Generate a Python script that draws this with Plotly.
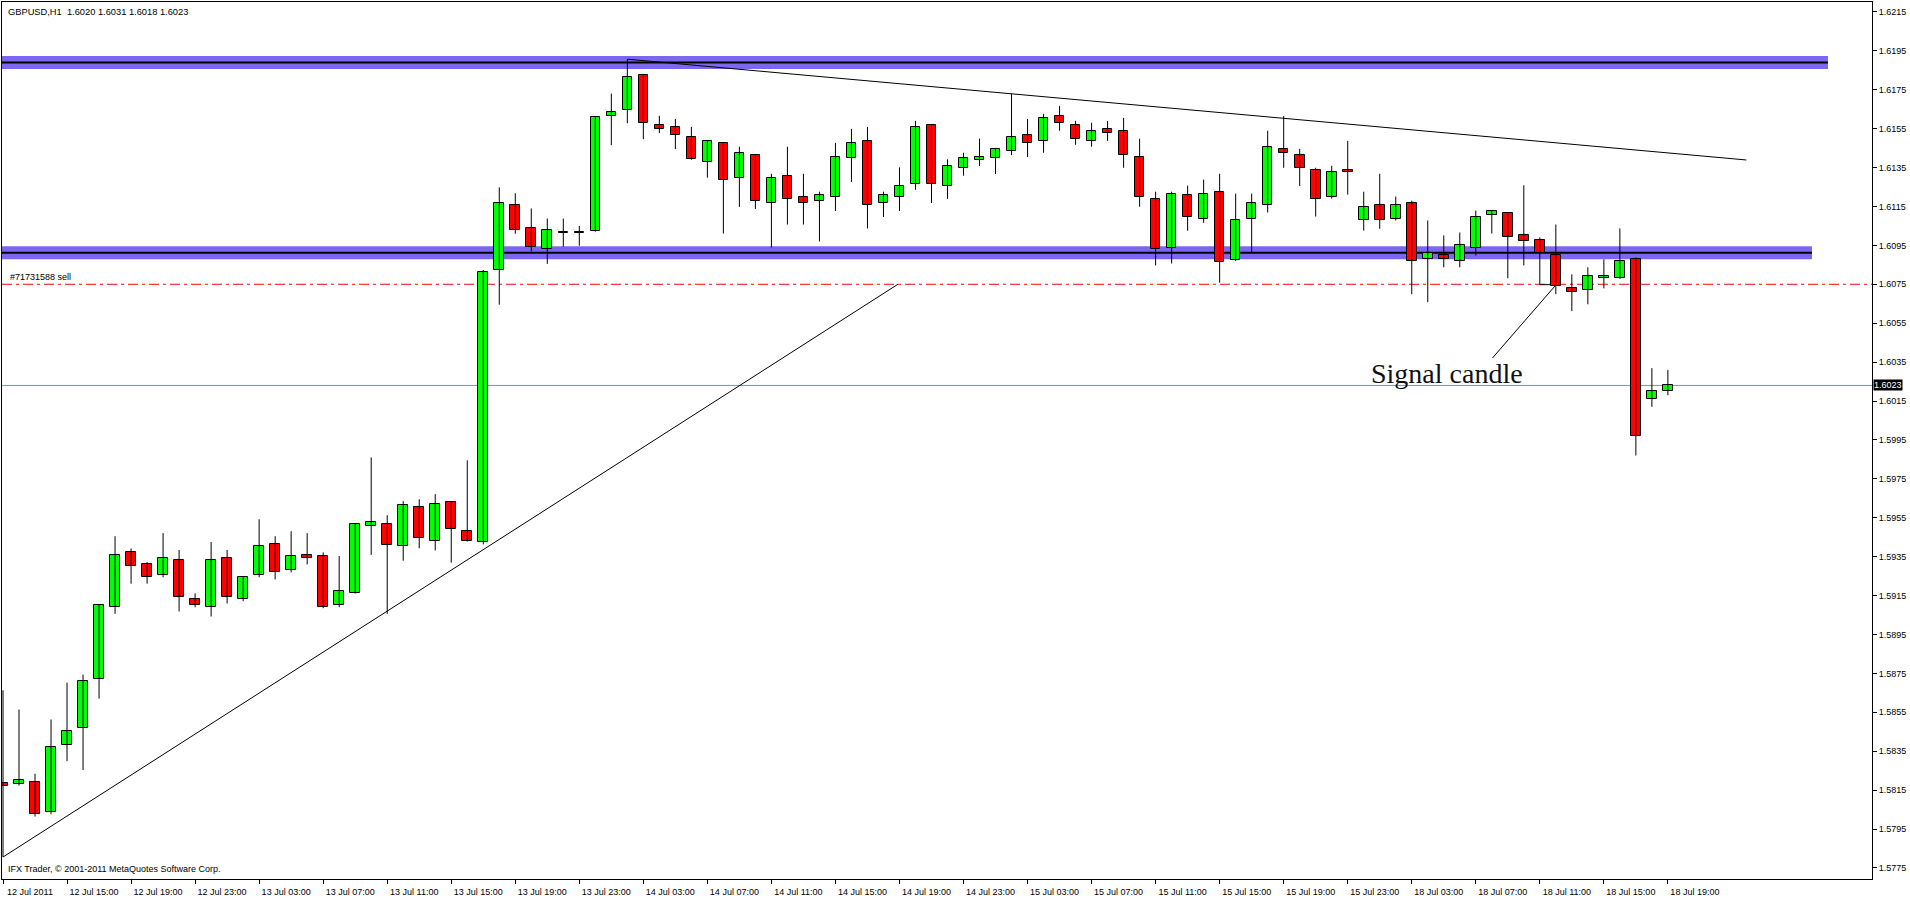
import plotly.graph_objects as go

# ---------------- data ----------------
opens = [1.58185, 1.58183, 1.58193, 1.58035, 1.58383, 1.58467, 1.58721, 1.59090, 1.59372, 1.59310,
         1.59254, 1.59331, 1.59131, 1.59090, 1.59341, 1.59131, 1.59254, 1.59413, 1.59279, 1.59361,
         1.59351, 1.59100, 1.59162, 1.59510, 1.59520, 1.59403, 1.59603, 1.59433, 1.59633, 1.59480,
         1.59423, 1.60822, 1.61159, 1.61037, 1.60929, 1.61016, 1.61012, 1.61025, 1.61616, 1.61646,
         1.61826, 1.61569, 1.61559, 1.61508, 1.61380, 1.61477, 1.61298, 1.61416, 1.61170, 1.61308,
         1.61200, 1.61180, 1.61200, 1.61400, 1.61487, 1.61170, 1.61200, 1.61267, 1.61569, 1.61257,
         1.61349, 1.61390, 1.61400, 1.61436, 1.61518, 1.61487, 1.61615, 1.61569, 1.61487, 1.61549,
         1.61539, 1.61406, 1.61190, 1.60939, 1.61211, 1.61088, 1.61226, 1.60877, 1.61088, 1.61160,
         1.61446, 1.61416, 1.61339, 1.61201, 1.61339, 1.61078, 1.61160, 1.61088, 1.61170, 1.60878,
         1.60898, 1.60868, 1.60939, 1.61108, 1.61119, 1.61001, 1.60980, 1.60898, 1.60729, 1.60719,
         1.60780, 1.60780, 1.60878, 1.60161, 1.60200]
highs = [1.58663, 1.58564, 1.58234, 1.58513, 1.58702, 1.58743, 1.59102, 1.59455, 1.59392, 1.59322,
         1.59471, 1.59384, 1.59161, 1.59425, 1.59384, 1.59244, 1.59542, 1.59455, 1.59481, 1.59471,
         1.59372, 1.59353, 1.59522, 1.59860, 1.59563, 1.59635, 1.59645, 1.59671, 1.59635, 1.59845,
         1.60823, 1.61248, 1.61218, 1.61140, 1.61088, 1.61088, 1.61050, 1.61612, 1.61730, 1.61907,
         1.61828, 1.61616, 1.61600, 1.61559, 1.61489, 1.61479, 1.61457, 1.61418, 1.61318, 1.61457,
         1.61318, 1.61226, 1.61477, 1.61549, 1.61559, 1.61226, 1.61351, 1.61590, 1.61571, 1.61392,
         1.61426, 1.61499, 1.61448, 1.61728, 1.61600, 1.61626, 1.61667, 1.61590, 1.61580, 1.61590,
         1.61605, 1.61498, 1.61226, 1.61226, 1.61257, 1.61288, 1.61318, 1.61216, 1.61216, 1.61539,
         1.61615, 1.61446, 1.61349, 1.61359, 1.61487, 1.61226, 1.61318, 1.61201, 1.61180, 1.61078,
         1.61001, 1.61016, 1.61129, 1.61131, 1.61121, 1.61259, 1.60991, 1.61057, 1.60801, 1.60837,
         1.60878, 1.61037, 1.60888, 1.60319, 1.60310]
lows = [1.57806, 1.58173, 1.58014, 1.58026, 1.58299, 1.58253, 1.58620, 1.59056, 1.59211, 1.59211,
        1.59244, 1.59068, 1.59090, 1.59042, 1.59109, 1.59121, 1.59244, 1.59233, 1.59269, 1.59310,
        1.59085, 1.59090, 1.59160, 1.59359, 1.59056, 1.59329, 1.59393, 1.59382, 1.59319, 1.59428,
        1.59413, 1.60645, 1.61010, 1.60919, 1.60855, 1.60943, 1.60948, 1.61020, 1.61465, 1.61578,
        1.61496, 1.61527, 1.61445, 1.61390, 1.61298, 1.61011, 1.61148, 1.61137, 1.60939, 1.61057,
        1.61057, 1.60970, 1.61127, 1.61276, 1.61037, 1.61096, 1.61127, 1.61236, 1.61168, 1.61189,
        1.61308, 1.61358, 1.61317, 1.61414, 1.61404, 1.61426, 1.61539, 1.61467, 1.61457, 1.61487,
        1.61349, 1.61149, 1.60847, 1.60857, 1.61025, 1.61066, 1.60758, 1.60870, 1.60915, 1.61119,
        1.61349, 1.61255, 1.61098, 1.61190, 1.61211, 1.61026, 1.61035, 1.61078, 1.60699, 1.60658,
        1.60837, 1.60837, 1.60898, 1.61011, 1.60781, 1.60847, 1.60748, 1.60699, 1.60612, 1.60647,
        1.60729, 1.60778, 1.59870, 1.60120, 1.60180]
closes = [1.58173, 1.58202, 1.58026, 1.58373, 1.58455, 1.58711, 1.59100, 1.59361, 1.59300, 1.59244,
          1.59341, 1.59141, 1.59100, 1.59331, 1.59141, 1.59244, 1.59403, 1.59269, 1.59351, 1.59341,
          1.59090, 1.59172, 1.59520, 1.59530, 1.59412, 1.59613, 1.59444, 1.59623, 1.59490, 1.59433,
          1.60811, 1.61170, 1.61027, 1.60940, 1.61027, 1.61018, 1.61018, 1.61609, 1.61636, 1.61815,
          1.61580, 1.61549, 1.61518, 1.61392, 1.61487, 1.61288, 1.61426, 1.61180, 1.61298, 1.61190,
          1.61170, 1.61211, 1.61405, 1.61477, 1.61160, 1.61211, 1.61257, 1.61559, 1.61267, 1.61359,
          1.61400, 1.61406, 1.61446, 1.61508, 1.61477, 1.61605, 1.61580, 1.61498, 1.61539, 1.61528,
          1.61416, 1.61201, 1.60929, 1.61216, 1.61098, 1.61216, 1.60866, 1.61078, 1.61170, 1.61457,
          1.61426, 1.61349, 1.61190, 1.61329, 1.61329, 1.61149, 1.61078, 1.61160, 1.60868, 1.60909,
          1.60878, 1.60950, 1.61098, 1.61129, 1.60991, 1.60970, 1.60909, 1.60740, 1.60709, 1.60791,
          1.60791, 1.60868, 1.59970, 1.60202, 1.60230]

tick_bars = [0, 4, 8, 12, 16, 20, 24, 28, 32, 36, 40, 44, 48, 52, 56, 60, 64, 68, 72, 76, 80, 84,
             88, 92, 96, 100, 104]
tick_labels = ["12 Jul 2011", "12 Jul 15:00", "12 Jul 19:00", "12 Jul 23:00", "13 Jul 03:00",
               "13 Jul 07:00", "13 Jul 11:00", "13 Jul 15:00", "13 Jul 19:00", "13 Jul 23:00",
               "14 Jul 03:00", "14 Jul 07:00", "14 Jul 11:00", "14 Jul 15:00", "14 Jul 19:00",
               "14 Jul 23:00", "15 Jul 03:00", "15 Jul 07:00", "15 Jul 11:00", "15 Jul 15:00",
               "15 Jul 19:00", "15 Jul 23:00", "18 Jul 03:00", "18 Jul 07:00", "18 Jul 11:00",
               "18 Jul 15:00", "18 Jul 19:00"]
price_ticks = [1.6215, 1.6195, 1.6175, 1.6155, 1.6135, 1.6115, 1.6095, 1.6075, 1.6055, 1.6035,
               1.6015, 1.5995, 1.5975, 1.5955, 1.5935, 1.5915, 1.5895, 1.5875, 1.5855, 1.5835,
               1.5815, 1.5795, 1.5775]

# drawn objects
resistance_levels = [1.61890, 1.60912]
resistance_ends = [114.0, 113.0]
band_half = 0.00033
sell_price = 1.6075
current_price = 1.6023
rise_line = [(0.0, 1.57806), (55.9, 1.6075)]
fall_line = [(39.0, 1.61907), (108.9, 1.61389)]
pointer_line = [(93.04, 1.60371), (97.0, 1.60746)]
stub_line = [(96.0, 1.60748), (96.69, 1.60748)]

# ---------------- figure ----------------
n = len(opens)
idx = list(range(n))
GREEN = "#00ff00"
RED = "#ff0000"
FONT = "Liberation Sans"

fig = go.Figure()

# wicks
wx, wy = [], []
for i in idx:
    wx += [i, i, None]
    wy += [lows[i], highs[i], None]
fig.add_trace(go.Scatter(x=wx, y=wy, mode="lines", line=dict(color="black", width=1),
                         hoverinfo="skip", showlegend=False))

# bodies
bases = [min(o, c) for o, c in zip(opens, closes)]
heights = [abs(c - o) for o, c in zip(opens, closes)]
colors = [GREEN if c >= o else RED for o, c in zip(opens, closes)]
fig.add_trace(go.Bar(x=idx, y=heights, base=bases, width=0.6,
                     marker=dict(color=colors, line=dict(color="black", width=1)),
                     hoverinfo="skip", showlegend=False))

shapes = []
for lvl, xe in zip(resistance_levels, resistance_ends):
    shapes.append(dict(type="rect", xref="x", yref="y", x0=-1, x1=xe,
                       y0=lvl - band_half, y1=lvl + band_half,
                       fillcolor="#7b68ee", line=dict(width=0), layer="below"))
    shapes.append(dict(type="line", xref="x", yref="y", x0=-1, x1=xe, y0=lvl, y1=lvl,
                       line=dict(color="black", width=2), layer="below"))
shapes.append(dict(type="line", xref="paper", yref="y", x0=0, x1=1, y0=sell_price, y1=sell_price,
                   line=dict(color="#ff0000", width=1, dash="10px,4px,3px,4px"), layer="below"))
shapes.append(dict(type="line", xref="paper", yref="y", x0=0, x1=1, y0=current_price, y1=current_price,
                   line=dict(color="#7f93a6", width=1), layer="below"))
for seg in (rise_line, fall_line, pointer_line, stub_line):
    shapes.append(dict(type="line", xref="x", yref="y", x0=seg[0][0], y0=seg[0][1],
                       x1=seg[1][0], y1=seg[1][1], line=dict(color="black", width=1)))

annotations = [
    dict(xref="paper", yref="paper", x=0, y=1, xanchor="left", yanchor="top", xshift=4, yshift=-3,
         text="GBPUSD,H1\u00a0 1.6020 1.6031 1.6018 1.6023", showarrow=False,
         font=dict(family=FONT, size=9.3, color="black")),
    dict(xref="paper", yref="paper", x=0, y=0, xanchor="left", yanchor="bottom", xshift=4, yshift=3,
         text="IFX Trader, © 2001-2011 MetaQuotes Software Corp.", showarrow=False,
         font=dict(family=FONT, size=9, color="black")),
    dict(xref="paper", yref="y", x=0, y=sell_price, xanchor="left", yanchor="bottom", xshift=6,
         yshift=0, text="#71731588 sell", showarrow=False,
         font=dict(family=FONT, size=9, color="black")),
    dict(xref="x", yref="y", x=85.3, y=1.60290, xanchor="left", yanchor="middle",
         text="Signal candle", showarrow=False,
         font=dict(family="Liberation Serif", size=28, color="#111111")),
    dict(xref="paper", yref="y", x=1, y=current_price, xanchor="left", yanchor="middle", xshift=1,
         text="1.6023", showarrow=False, bgcolor="black", borderpad=0,
         font=dict(family=FONT, size=9, color="white")),
]

fig.update_layout(
    width=1910, height=898,
    margin=dict(l=2, r=38, t=1, b=17),
    paper_bgcolor="white", plot_bgcolor="white",
    showlegend=False, bargap=0, barmode="overlay",
    shapes=shapes, annotations=annotations,
    font=dict(family=FONT, size=9, color="black"),
)
fig.update_xaxes(range=[-0.0625, 116.75], tickmode="array", tickvals=tick_bars, ticktext=tick_labels,
                 ticks="outside", ticklen=4, tickcolor="black", showgrid=False, zeroline=False,
                 showline=True, linecolor="black", linewidth=1, mirror=True,
                 ticklabelshift=27, ticklabeloverflow="allow", tickangle=0,
                 tickfont=dict(family=FONT, size=9, color="black"), fixedrange=True)
fig.update_yaxes(side="right", range=[1.57693, 1.62201], tickmode="array", tickvals=price_ticks,
                 ticktext=["%.4f" % v for v in price_ticks],
                 ticks="outside", ticklen=4, tickcolor="black", showgrid=False, zeroline=False,
                 showline=True, linecolor="black", linewidth=1, mirror=True,
                 tickfont=dict(family=FONT, size=9, color="black"), fixedrange=True)

fig.write_html("out.html", config={"displayModeBar": False},
               post_script="document.body.style.margin='0';document.body.style.overflow='hidden';")
